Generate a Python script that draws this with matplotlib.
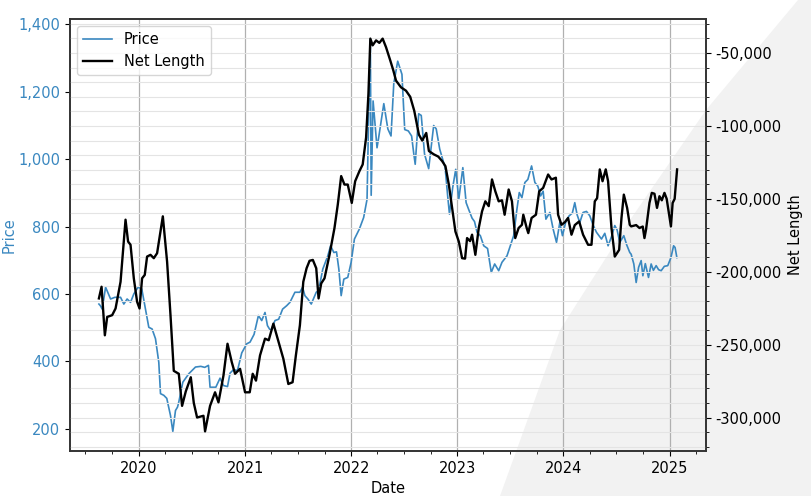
import numpy as np
import pandas as pd
import matplotlib
matplotlib.use("Agg")
import matplotlib.pyplot as plt
import matplotlib.dates as mdates
from matplotlib.ticker import FuncFormatter, MultipleLocator
from matplotlib.patches import Polygon

# values (time as decimal years)
price_t = [2019.624, 2019.638, 2019.655, 2019.687, 2019.734, 2019.774, 2019.828, 2019.859, 2019.890, 2019.922,
           2019.953, 2019.993, 2020.028, 2020.063, 2020.094, 2020.125, 2020.157, 2020.188, 2020.204, 2020.235,
           2020.263, 2020.298, 2020.320, 2020.345, 2020.364, 2020.376, 2020.414, 2020.470, 2020.533, 2020.583,
           2020.620, 2020.655, 2020.670, 2020.724, 2020.764, 2020.796, 2020.834, 2020.858, 2020.890, 2020.928,
           2020.968, 2021.015, 2021.046, 2021.084, 2021.125, 2021.156, 2021.187, 2021.210, 2021.241, 2021.281,
           2021.316, 2021.353, 2021.391, 2021.422, 2021.469, 2021.516, 2021.541, 2021.563, 2021.591, 2021.623,
           2021.670, 2021.692, 2021.732, 2021.779, 2021.805, 2021.836, 2021.861, 2021.883, 2021.905, 2021.930,
           2021.967, 2021.999, 2022.030, 2022.077, 2022.117, 2022.149, 2022.164, 2022.180, 2022.188, 2022.206,
           2022.243, 2022.256, 2022.307, 2022.345, 2022.375, 2022.401, 2022.438, 2022.478, 2022.504, 2022.538,
           2022.569, 2022.590, 2022.603, 2022.636, 2022.660, 2022.691, 2022.730, 2022.777, 2022.801, 2022.834,
           2022.857, 2022.885, 2022.909, 2022.926, 2022.956, 2022.985, 2023.014, 2023.052, 2023.083, 2023.108,
           2023.139, 2023.162, 2023.186, 2023.217, 2023.249, 2023.285, 2023.320, 2023.352, 2023.390, 2023.421,
           2023.468, 2023.499, 2023.531, 2023.562, 2023.584, 2023.609, 2023.637, 2023.665, 2023.700, 2023.731,
           2023.759, 2023.785, 2023.809, 2023.835, 2023.872, 2023.903, 2023.935, 2023.966, 2023.991, 2024.023,
           2024.054, 2024.084, 2024.107, 2024.129, 2024.154, 2024.185, 2024.217, 2024.248, 2024.279, 2024.311,
           2024.358, 2024.389, 2024.420, 2024.452, 2024.483, 2024.505, 2024.530, 2024.568, 2024.596, 2024.624,
           2024.637, 2024.662, 2024.684, 2024.707, 2024.731, 2024.747, 2024.770, 2024.800, 2024.825, 2024.846,
           2024.872, 2024.895, 2024.919, 2024.949, 2024.981, 2025.011, 2025.036, 2025.050, 2025.067]
price = [570, 565, 555, 620, 585, 590, 590, 570, 585, 575,
         600, 620, 615, 555, 501, 496, 467, 397, 304, 299,
         290, 239, 192, 254, 264, 279, 338, 363, 383, 385,
         382, 388, 323, 323, 350, 328, 325, 365, 375, 373,
         425, 452, 457, 480, 536, 521, 545, 506, 490, 521,
         525, 555, 565, 575, 605, 605, 620, 595, 585, 570,
         605, 610, 674, 713, 743, 723, 725, 674, 595, 644,
         649, 694, 763, 793, 827, 881, 1128, 1358, 893, 1173,
         1034, 1059, 1165, 1090, 1069, 1225, 1291, 1252, 1088, 1084,
         1069, 1015, 985, 1135, 1130, 1015, 972, 1100, 1090, 1030,
         1005, 975, 891, 837, 915, 970, 881, 975, 871, 850,
         825, 815, 783, 773, 743, 735, 664, 689, 669, 694,
         713, 743, 773, 852, 901, 886, 931, 940, 980, 931,
         920, 891, 905, 822, 842, 793, 753, 812, 773, 815,
         832, 840, 871, 835, 812, 842, 845, 832, 805, 783,
         763, 780, 743, 770, 803, 790, 753, 773, 745, 723,
         718, 689, 634, 679, 699, 654, 690, 649, 689, 670,
         684, 672, 669, 682, 684, 708, 743, 738, 708]

net_t = [2019.624, 2019.649, 2019.680, 2019.702, 2019.749, 2019.781, 2019.828, 2019.875, 2019.899, 2019.922,
         2019.953, 2019.984, 2020.007, 2020.031, 2020.056, 2020.078, 2020.110, 2020.141, 2020.172, 2020.226,
         2020.266, 2020.298, 2020.329, 2020.376, 2020.407, 2020.442, 2020.489, 2020.517, 2020.548, 2020.608,
         2020.623, 2020.670, 2020.717, 2020.749, 2020.796, 2020.834, 2020.874, 2020.905, 2020.952, 2020.999,
         2021.043, 2021.071, 2021.102, 2021.140, 2021.187, 2021.222, 2021.266, 2021.297, 2021.360, 2021.407,
         2021.447, 2021.478, 2021.516, 2021.548, 2021.579, 2021.607, 2021.638, 2021.670, 2021.692, 2021.717,
         2021.748, 2021.795, 2021.842, 2021.873, 2021.905, 2021.936, 2021.967, 2022.005, 2022.037, 2022.077,
         2022.108, 2022.140, 2022.162, 2022.180, 2022.202, 2022.234, 2022.265, 2022.296, 2022.328, 2022.350,
         2022.368, 2022.397, 2022.422, 2022.469, 2022.516, 2022.556, 2022.594, 2022.638, 2022.669, 2022.707,
         2022.732, 2022.779, 2022.820, 2022.857, 2022.888, 2022.920, 2022.951, 2022.982, 2023.014, 2023.045,
         2023.073, 2023.092, 2023.120, 2023.139, 2023.170, 2023.202, 2023.233, 2023.264, 2023.296, 2023.327,
         2023.358, 2023.390, 2023.421, 2023.446, 2023.484, 2023.515, 2023.546, 2023.578, 2023.609, 2023.622,
         2023.654, 2023.669, 2023.700, 2023.741, 2023.772, 2023.809, 2023.856, 2023.888, 2023.929, 2023.950,
         2023.982, 2024.014, 2024.044, 2024.076, 2024.107, 2024.148, 2024.185, 2024.232, 2024.264, 2024.295,
         2024.317, 2024.342, 2024.368, 2024.398, 2024.420, 2024.452, 2024.483, 2024.524, 2024.546, 2024.568,
         2024.599, 2024.624, 2024.637, 2024.684, 2024.715, 2024.746, 2024.762, 2024.777, 2024.809, 2024.831,
         2024.856, 2024.880, 2024.903, 2024.925, 2024.950, 2024.971, 2024.997, 2025.011, 2025.027, 2025.046,
         2025.069]
net = [-218300, -210300, -243600, -231000, -229800, -225200, -206900, -164300, -179300, -181500,
       -204500, -220600, -225200, -204500, -202200, -189600, -188400, -190700, -187300, -162000,
       -193100, -229800, -268000, -270000, -292000, -282000, -272400, -290000, -300000, -298800,
       -309500, -292000, -282700, -289600, -271200, -249400, -262000, -270000, -266600, -282700,
       -282700, -270000, -274700, -257400, -245900, -247000, -235600, -243600, -259700, -277000,
       -275800, -257400, -236700, -206900, -197600, -192500, -191900, -197600, -218300, -208000,
       -204500, -188400, -170000, -154000, -134400, -140200, -140200, -152800, -137900, -131000,
       -126400, -107900, -78100, -40100, -44700, -41300, -43000, -40100, -46000, -51000,
       -55100, -62000, -68900, -73500, -75800, -80000, -89600, -106000, -110000, -104800,
       -117200, -119500, -121000, -124100, -127600, -140200, -156200, -172400, -179300, -190700,
       -191000, -176900, -179000, -174600, -188400, -170000, -158600, -151700, -155000, -136700,
       -144800, -151700, -151000, -160900, -143600, -151700, -176900, -170000, -167800, -160900,
       -170000, -173500, -163100, -160900, -144800, -142500, -133300, -136700, -135500, -160900,
       -167800, -166000, -163100, -174600, -168000, -165500, -174600, -181500, -181500, -151700,
       -149500, -129800, -137900, -129800, -137900, -170000, -189600, -185000, -163100, -147100,
       -156200, -167800, -168900, -168000, -170000, -169000, -176900, -171000, -152800, -145900,
       -146500, -156200, -148200, -151000, -145900, -150000, -162000, -168900, -152800, -150000,
       -129800]


def to_date(t):
    y = int(t)
    start = pd.Timestamp(year=y, month=1, day=1)
    end = pd.Timestamp(year=y + 1, month=1, day=1)
    return start + (end - start) * (t - y)


price_dates = [to_date(t) for t in price_t]
net_dates = [to_date(t) for t in net_t]

blue = '#3a88c0'
W, H = 811, 496

fig = plt.figure(figsize=(W / 100, H / 100), dpi=100)

# grey corner shape behind the chart
corner = [(798, 0), (811, 0), (811, 496), (500, 496), (560, 330), (630, 220), (706, 110)]
corner = [(x / W, 1 - y / H) for x, y in corner]
fig.patches.append(Polygon(corner, closed=True, transform=fig.transFigure,
                           facecolor='#f2f2f2', edgecolor='none', zorder=-10))

ax1 = fig.add_axes([70 / W, 1 - 451 / H, (706 - 70) / W, (451 - 19) / H])
ax1.set_facecolor('none')
ax2 = ax1.twinx()
ax2.set_facecolor('none')
ax1.set_zorder(1)
ax2.set_zorder(2)

l1, = ax1.plot(price_dates, price, color=blue, lw=1.2, label='Price')
l2, = ax2.plot(net_dates, net, color='black', lw=1.7, label='Net Length')

fs = 10.5
ax1.set_xlabel('Date', fontsize=fs)
ax1.set_ylabel('Price', color=blue, fontsize=fs)
ax2.set_ylabel('Net Length', fontsize=fs, labelpad=4)
ax1.xaxis.set_label_coords(0.5, -0.07)
ax1.yaxis.set_label_coords(-0.084, 0.5)

ax1.tick_params(axis='y', labelcolor=blue, labelsize=fs)
ax1.tick_params(axis='x', labelsize=fs)
ax2.tick_params(axis='y', labelsize=fs)

ax1.xaxis.set_major_locator(mdates.YearLocator())
ax1.xaxis.set_minor_locator(mdates.MonthLocator(bymonth=[1, 4, 7, 10]))
ax1.xaxis.set_major_formatter(mdates.DateFormatter('%Y'))

ax1.yaxis.set_major_locator(MultipleLocator(200))
ax1.yaxis.set_major_formatter(FuncFormatter(lambda v, p: f'{v:,.0f}'))
ax2.yaxis.set_major_locator(MultipleLocator(50000))
ax2.yaxis.set_minor_locator(MultipleLocator(10000))
ax2.yaxis.set_major_formatter(FuncFormatter(lambda v, p: f'{v:,.0f}'))

ax1.grid(True, axis='x', color='#b0b0b0', lw=0.9)
ax2.grid(True, axis='y', which='both', color='#e4e4e4', lw=0.8)
ax2.set_axisbelow(True)

for ax in (ax1, ax2):
    for s in ax.spines.values():
        s.set_color('#333333')
        s.set_linewidth(1.2)

ax2.legend([l1, l2], ['Price', 'Net Length'], loc='upper left', fontsize=fs)

fig.savefig('out.png', dpi=100)
